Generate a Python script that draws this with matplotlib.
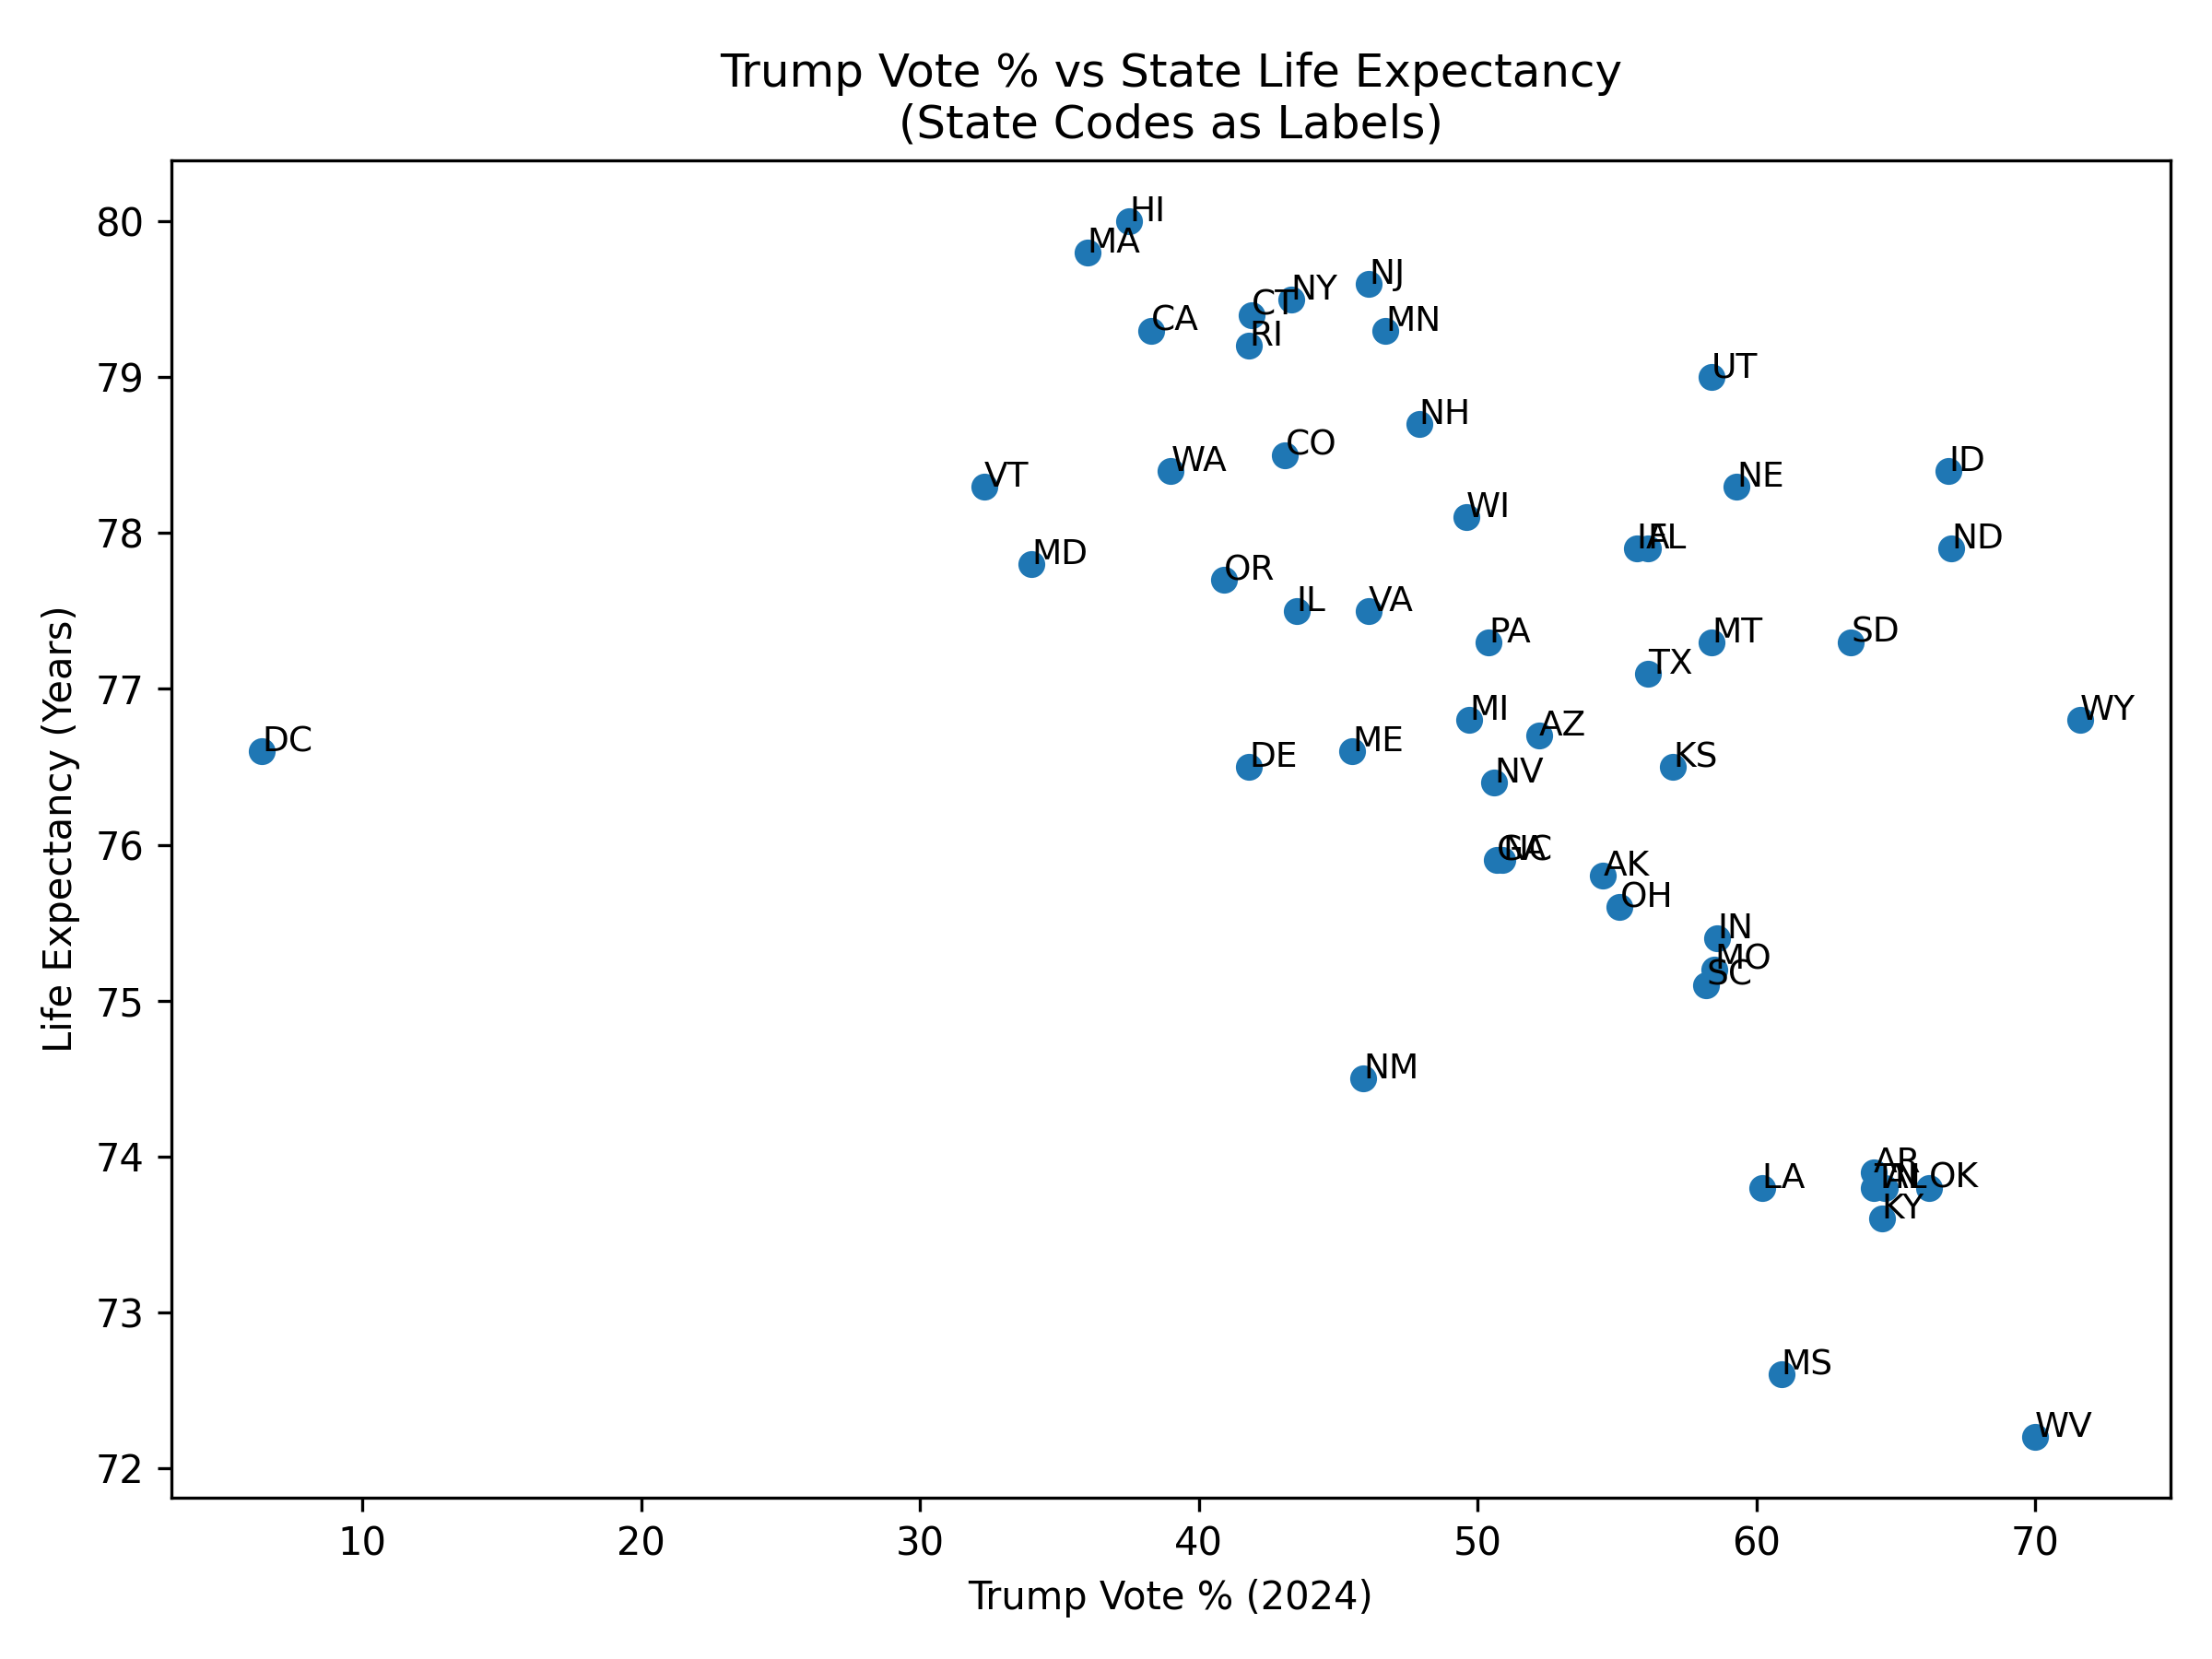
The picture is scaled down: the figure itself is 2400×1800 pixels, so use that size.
import matplotlib
matplotlib.use("Agg")
import matplotlib.pyplot as plt

states = ["DC", "VT", "MD", "MA", "HI", "CA", "WA", "OR", "RI", "DE", "CT", "CO", "IL", "NY",
          "NM", "ME", "NJ", "VA", "MN", "NH", "WI", "MI", "PA", "NV", "GA", "NC", "AZ", "AK",
          "OH", "IA", "FL", "TX", "KS", "SC", "MO", "IN", "UT", "MT", "NE", "LA", "MS", "SD",
          "AR", "TN", "AL", "KY", "OK", "ID", "ND", "WV", "WY"]
trump_vote = [6.4, 32.3, 34.0, 36.0, 37.5, 38.3, 39.0, 40.9, 41.8, 41.8, 41.9, 43.1, 43.5, 43.3,
              45.9, 45.5, 46.1, 46.1, 46.7, 47.9, 49.6, 49.7, 50.4, 50.6, 50.7, 50.9, 52.2, 54.5,
              55.1, 55.7, 56.1, 56.1, 57.0, 58.2, 58.5, 58.6, 58.4, 58.4, 59.3, 60.2, 60.9, 63.4,
              64.2, 64.2, 64.6, 64.5, 66.2, 66.9, 67.0, 70.0, 71.6]
life_exp = [76.6, 78.3, 77.8, 79.8, 80.0, 79.3, 78.4, 77.7, 79.2, 76.5, 79.4, 78.5, 77.5, 79.5,
            74.5, 76.6, 79.6, 77.5, 79.3, 78.7, 78.1, 76.8, 77.3, 76.4, 75.9, 75.9, 76.7, 75.8,
            75.6, 77.9, 77.9, 77.1, 76.5, 75.1, 75.2, 75.4, 79.0, 77.3, 78.3, 73.8, 72.6, 77.3,
            73.9, 73.8, 73.8, 73.6, 73.8, 78.4, 77.9, 72.2, 76.8]

fig, ax = plt.subplots(figsize=(8, 6), dpi=300)
ax.scatter(trump_vote, life_exp)
for s, x, y in zip(states, trump_vote, life_exp):
    ax.text(x, y, s, fontsize=9)
ax.set_title("Trump Vote % vs State Life Expectancy\n(State Codes as Labels)", fontsize=12)
ax.set_xlabel("Trump Vote % (2024)")
ax.set_ylabel("Life Expectancy (Years)")
fig.subplots_adjust(left=0.0774, right=0.9813, top=0.9032, bottom=0.0972)
fig.savefig("out.png", dpi=300)
